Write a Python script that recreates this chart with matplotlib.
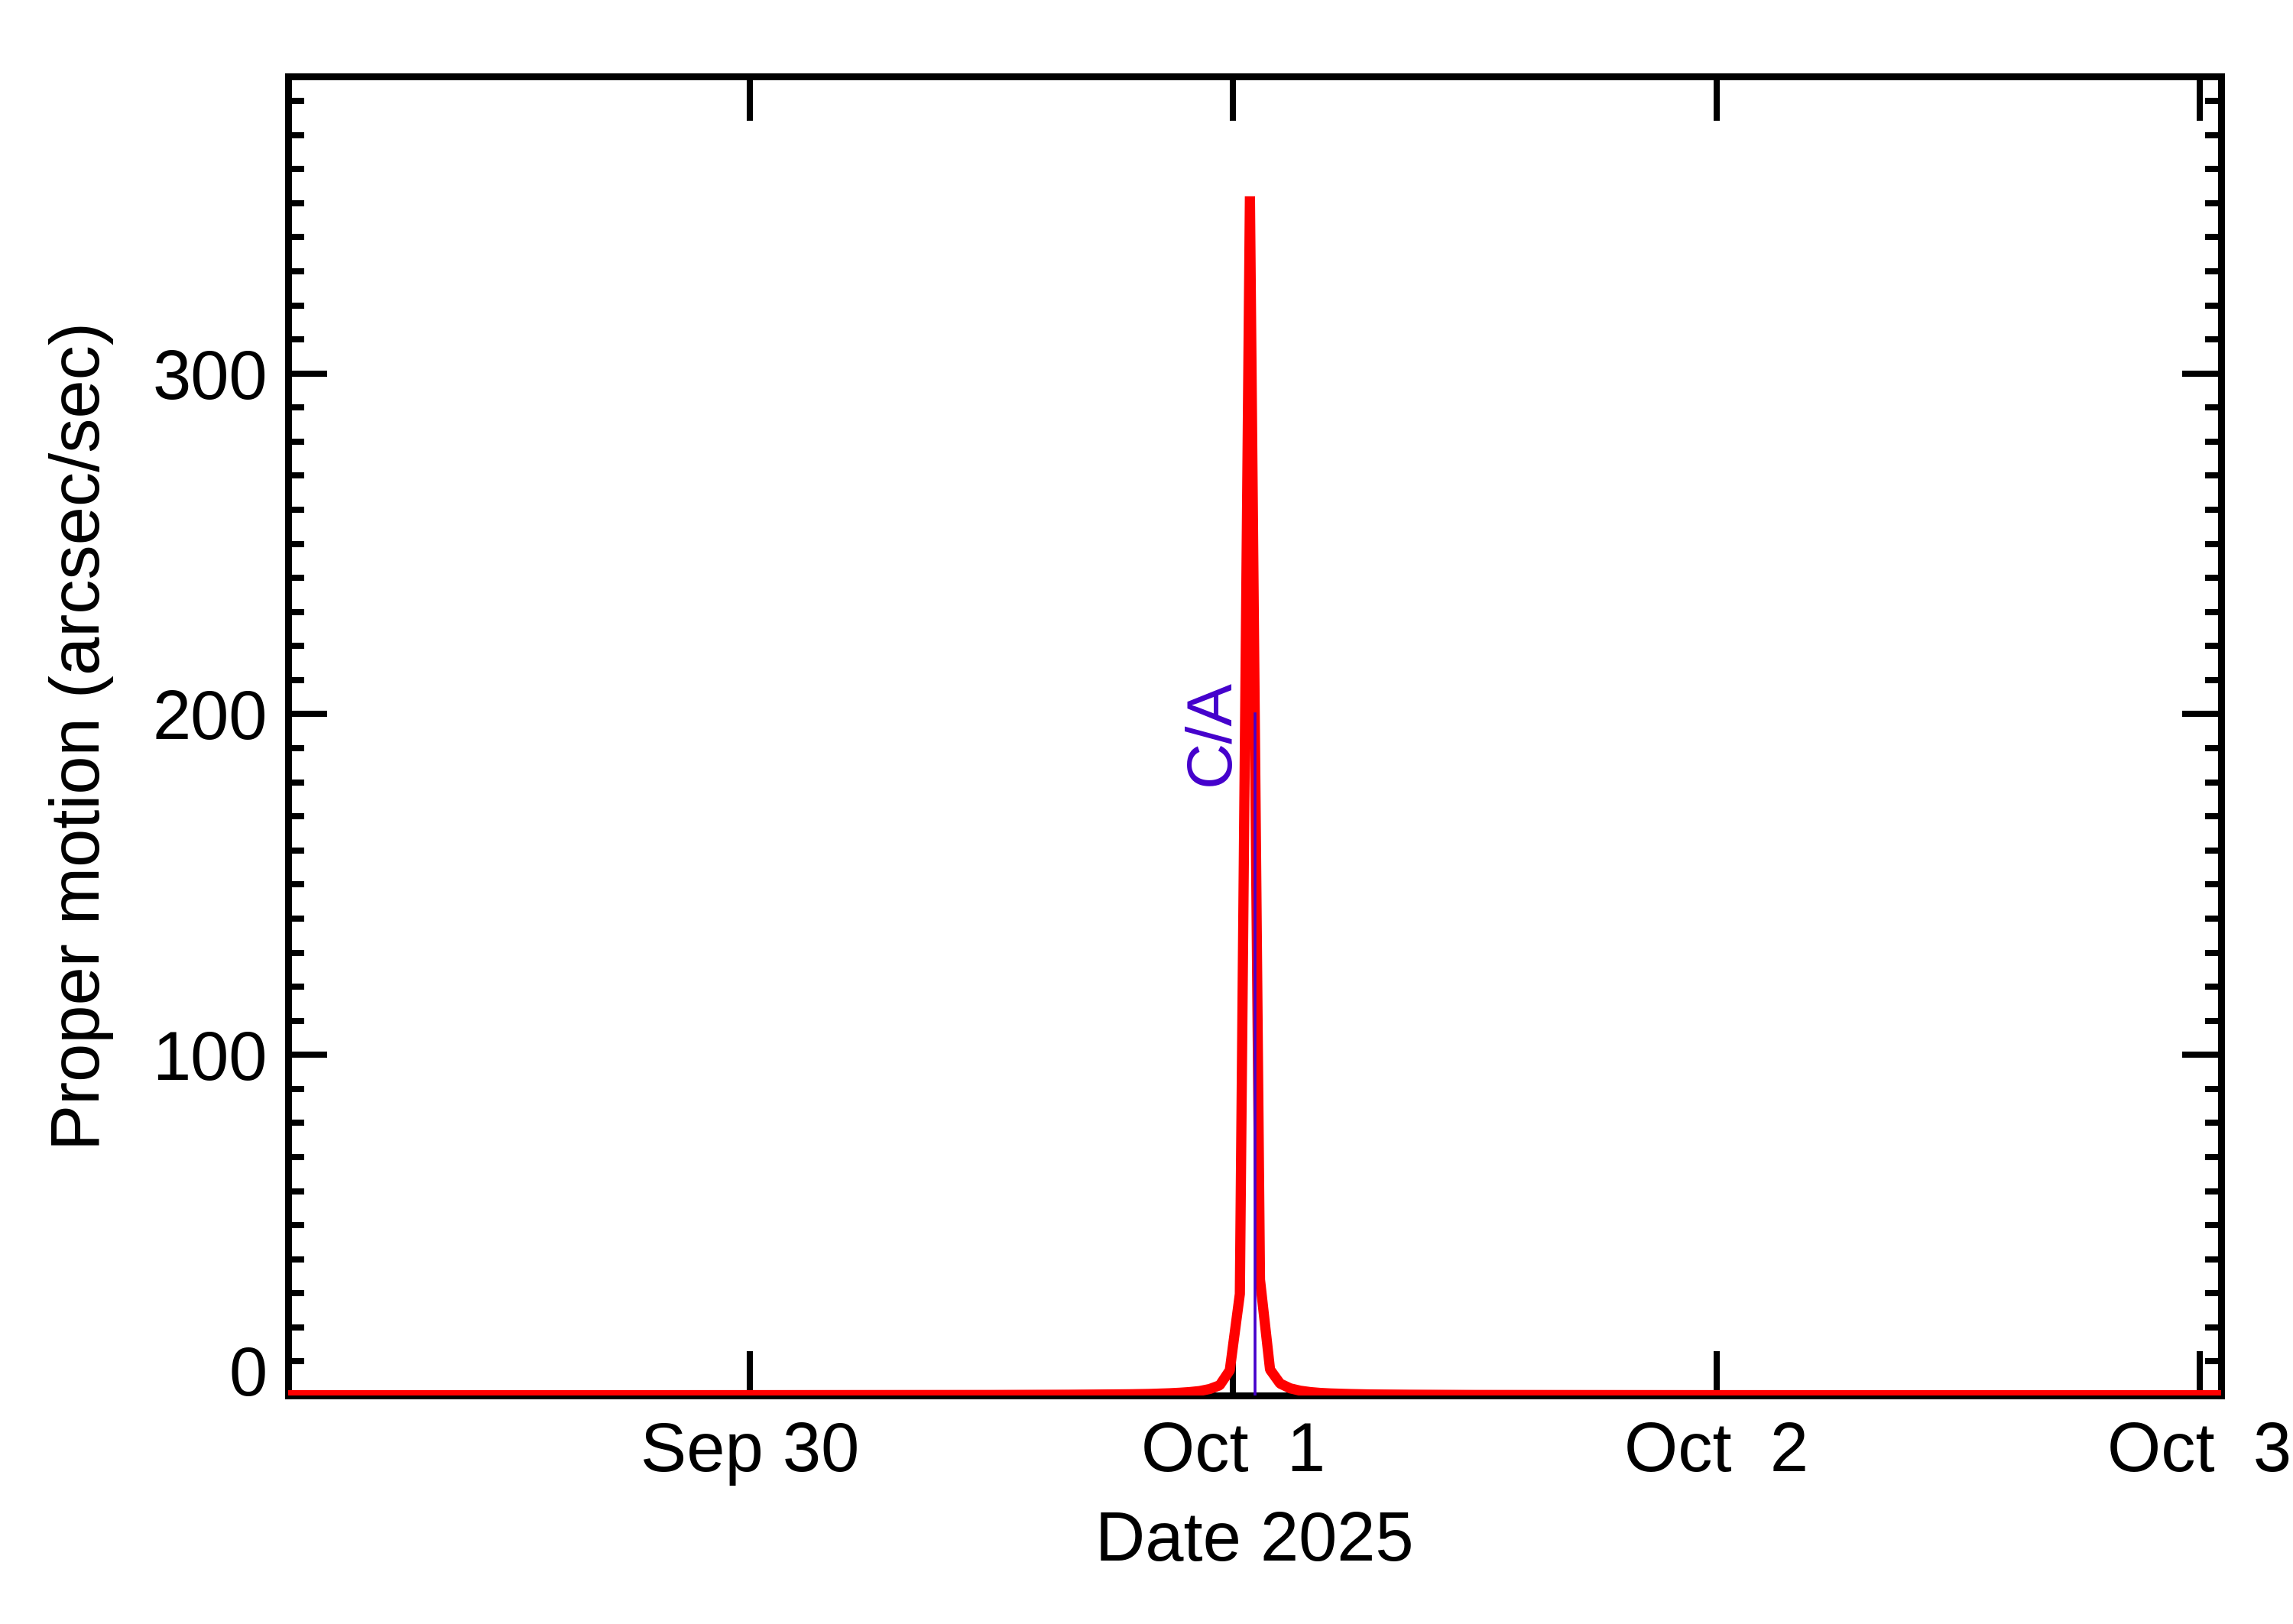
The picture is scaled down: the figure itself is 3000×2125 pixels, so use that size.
import numpy as np
import pandas as pd
import matplotlib
matplotlib.use("Agg")
import matplotlib.pyplot as plt
from matplotlib.ticker import FixedLocator, FuncFormatter, MultipleLocator
import matplotlib.dates as mdates

plt.rcParams["font.family"] = ["Liberation Sans", "DejaVu Sans"]

# --- data: hours from 2025-10-01 00:00 UT, proper motion in arcsec/sec ---
hours = [-46.94, -36.0, -24.0, -12.0, -8.165, -6.165, -5.165, -4.165,
         -3.665, -3.165, -2.665, -2.165, -1.665, -1.165, -0.665, -0.165,
         0.335, 0.835, 1.335, 1.835, 2.335, 2.835, 3.335, 3.835, 4.335,
         4.835, 5.835, 6.835, 8.835, 12.0, 24.0, 36.0, 49.06]
motion = [0.08, 0.09, 0.10, 0.15, 0.22, 0.30, 0.35, 0.45,
          0.55, 0.65, 0.80, 1.00, 1.30, 1.90, 3.00, 7.40,
          29.8, 352.0, 34.0, 7.60, 3.50, 2.10, 1.40, 1.00, 0.75,
          0.60, 0.42, 0.30, 0.22, 0.15, 0.10, 0.09, 0.08]

ca_hour = 1.07          # close approach, Oct 1 ~01:04 UT
ca_top = 200.0
window = 48.0           # hours either side of C/A

t0 = pd.Timestamp("2025-10-01 00:00")
times = t0 + pd.to_timedelta(hours, unit="h")
ca_time = t0 + pd.to_timedelta(ca_hour, unit="h")
day_ticks = pd.date_range("2025-09-30", "2025-10-03", freq="D")

fig = plt.figure(figsize=(30, 21.25), dpi=100)
ax = fig.add_axes([377 / 3000, 1 - 1826 / 2125, 2529 / 3000, 1726 / 2125])

ax.plot(times, motion, color="red", lw=9.6, solid_joinstyle="bevel", zorder=3)
ax.plot([ca_time, ca_time], [0, ca_top], color="#4400cc", lw=2.6, zorder=4)
ax.annotate("C/A", xy=(ca_time, 179), xytext=(-12, 0), textcoords="offset points",
            rotation=90, ha="right", va="bottom", color="#4400cc", fontsize=60)

ax.set_xlim(ca_time - pd.Timedelta(hours=window), ca_time + pd.Timedelta(hours=window))
ax.set_ylim(0, 387.2)

ax.xaxis.set_major_locator(FixedLocator(mdates.date2num(day_ticks)))
ax.xaxis.set_major_formatter(
    FuncFormatter(lambda v, _: (lambda d: f"{d:%b} {d.day:2d}")(mdates.num2date(v))))
ax.yaxis.set_major_locator(FixedLocator([0, 100, 200, 300]))
ax.yaxis.set_minor_locator(MultipleLocator(10))

for s in ax.spines.values():
    s.set_linewidth(6.5)
ax.tick_params(axis="both", which="both", direction="in", top=True, right=True,
               width=5.8, labelsize=65, pad=24)
ax.tick_params(axis="x", which="major", length=41.8)
ax.tick_params(axis="y", which="major", length=36.7, pad=19.5)
ax.tick_params(axis="y", which="minor", length=15)

ax.set_xlabel("Date 2025", fontsize=65)
ax.set_ylabel("Proper motion (arcsec/sec)", fontsize=65)
ax.xaxis.set_label_coords(0.5, -0.087)
ax.yaxis.set_label_coords(-0.09, 0.5)

fig.canvas.draw()
ax.yaxis.get_major_ticks()[0].label1.set_verticalalignment("baseline")

plt.savefig("out.png", dpi=100)
